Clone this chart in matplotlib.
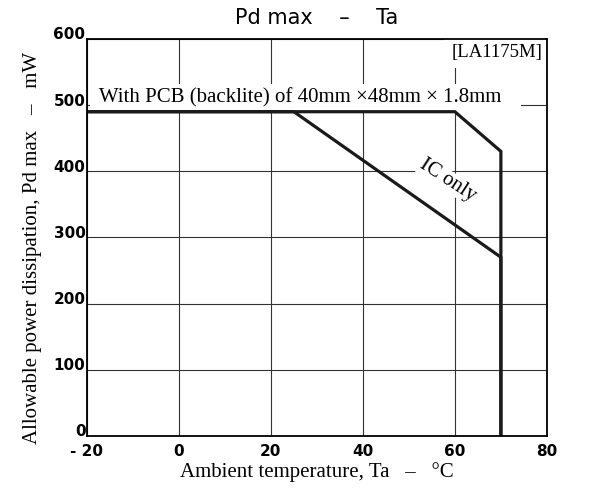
import numpy as np
import matplotlib.pyplot as plt
import matplotlib.transforms as mtransforms

ta_pcb = [-20, 60, 70, 70]
pd_pcb = [490, 490, 430, 0]
ta_ic = [-20, 25, 70, 70]
pd_ic = [490, 490, 270, 0]

xticks = [-20, 0, 20, 40, 60, 80]
xlabels = ['- 20', '0', '20', '40', '60', '80']
yticks = [0, 100, 200, 300, 400, 500, 600]

fig = plt.figure(figsize=(5.99, 4.93), dpi=100)
ax = fig.add_axes([0.145, 0.116, 0.768, 0.805])

ax.axis([-20, 80, 0, 600])
ax.set_xticks(xticks)
ax.set_yticks(yticks)
ax.set_xticklabels(xlabels)
ax.tick_params(length=0)
ax.tick_params(axis='x', pad=6)
ax.tick_params(axis='y', pad=1)
for lab in ax.get_xticklabels() + ax.get_yticklabels():
    lab.set_fontweight('bold')
    lab.set_fontsize(11)
    lab.set_family('DejaVu Sans')
# y labels sit a little above their grid lines
shift = mtransforms.ScaledTranslation(0, 4 / 72, fig.dpi_scale_trans)
for lab in ax.get_yticklabels():
    lab.set_transform(lab.get_transform() + shift)
ax.grid(color='#333333', lw=0.8)
ax.set_axisbelow(True)
for sp in ax.spines.values():
    sp.set_linewidth(1.3)

ax.plot(ta_pcb, pd_pcb, color='#1a1a1a', lw=2.3, solid_joinstyle='miter', zorder=2.3)
ax.plot(ta_ic, pd_ic, color='#1a1a1a', lw=2.3, solid_joinstyle='miter', zorder=2.3)

ax.text(-18.5, 504, ' With PCB (backlite) of 40mm \u00d748mm \u00d7 1.8mm   ',
        family='Liberation Serif', fontsize=15, va='baseline', ha='left',
        bbox=dict(facecolor='white', edgecolor='none', pad=3.0), zorder=2.2)
ax.text(79, 580, '[LA1175M]', family='Liberation Serif', fontsize=13.5,
        ha='right', va='center',
        bbox=dict(facecolor='white', edgecolor='none', pad=5.5), zorder=2.2)
ax.text(58.4, 386, 'IC only', family='Liberation Serif', fontsize=15,
        ha='center', va='center', rotation=-33,
        bbox=dict(facecolor='white', edgecolor='none', pad=0.5), zorder=2.2)

ax.set_xlabel('Ambient temperature, Ta   \u2013   \u00b0C', family='Liberation Serif',
              fontsize=15, labelpad=2)
ax.set_ylabel('Allowable power dissipation, Pd max   \u2013   mW', family='Liberation Serif',
              fontsize=15, labelpad=8)
ax.yaxis.label.set_y(0.474)
ax.set_title('Pd max    \u2013    Ta', fontsize=15, pad=11)

fig.savefig('out.png', dpi=100)
